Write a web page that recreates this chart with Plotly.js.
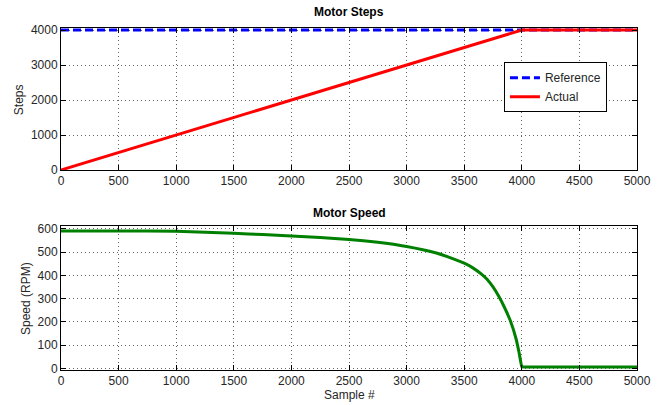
<!DOCTYPE html>
<html>
<head>
<meta charset="utf-8">
<script src="https://cdn.plot.ly/plotly-3.0.1.min.js"></script>
<style>html,body{margin:0;padding:0;background:#fff;}#chart{width:665px;height:405px;}</style>
</head>
<body>
<div id="chart"></div>
<script>
// Top subplot: Motor Steps
const refX = [0, 5000];
const refY = [4000, 4000];
const actX = [0, 4000, 5000];
const actY = [0, 4000, 4000];

// Bottom subplot: Motor Speed (RPM)
const speedX = [0, 500, 1000, 1250, 1500, 1750, 2000, 2250, 2500, 2750, 3000, 3250, 3400, 3500, 3575, 3650, 3700, 3750, 3800, 3850, 3900, 3950, 3975, 4000, 4010, 5000];
const speedY = [590, 590, 589, 585, 580, 575, 569, 562.5, 554, 542, 524, 497, 472, 452, 432, 405, 382, 350, 310, 262, 206, 128, 72, 8, 7, 7];

const xTicks = [0, 500, 1000, 1500, 2000, 2500, 3000, 3500, 4000, 4500, 5000];

const font = {family: 'Liberation Sans, Arial, sans-serif', size: 12, color: '#262626'};

const axisCommon = {
  showline: true, linecolor: '#000', linewidth: 1, mirror: 'ticks',
  ticks: 'inside', ticklen: 5, tickcolor: '#000',
  showgrid: true, gridcolor: '#666', griddash: '1px,3px', gridwidth: 1,
  zeroline: false, tickfont: font
};

const traces = [
  {x: refX, y: refY, type: 'scatter', mode: 'lines', name: 'Reference',
   line: {color: '#0000ff', width: 3, dash: '8px,4px'}, xaxis: 'x', yaxis: 'y'},
  {x: actX, y: actY, type: 'scatter', mode: 'lines', name: 'Actual',
   line: {color: '#ff0000', width: 3}, xaxis: 'x', yaxis: 'y'},
  {x: speedX, y: speedY, type: 'scatter', mode: 'lines', name: 'Speed',
   line: {color: '#008000', width: 3, shape: 'spline', smoothing: 0.3}, xaxis: 'x2', yaxis: 'y2', showlegend: false}
];

const layout = {
  width: 665, height: 405,
  margin: {l: 61, r: 28, t: 28, b: 35},
  paper_bgcolor: '#fff', plot_bgcolor: '#fff',
  font: font,
  showlegend: true,
  legend: {x: 0.769, y: 0.9, xanchor: 'left', yanchor: 'top',
           bgcolor: '#fff', bordercolor: '#000', borderwidth: 1,
           font: font, tracegroupgap: 0},
  xaxis: Object.assign({}, axisCommon, {domain: [0, 1], range: [0, 5000], tickvals: xTicks, anchor: 'y'}),
  yaxis: Object.assign({}, axisCommon, {domain: [0.5848, 1], range: [0, 4057], tickvals: [0, 1000, 2000, 3000, 4000], anchor: 'x'}),
  xaxis2: Object.assign({}, axisCommon, {domain: [0, 1], range: [0, 5000], tickvals: xTicks, anchor: 'y2'}),
  yaxis2: Object.assign({}, axisCommon, {domain: [0, 0.4211], range: [-6, 611.6], tickvals: [0, 100, 200, 300, 400, 500, 600], anchor: 'x2'}),
  annotations: [
    {text: '<b>Motor Steps</b>', xref: 'paper', yref: 'paper', x: 0.5, y: 1.0468, showarrow: false,
     xanchor: 'center', yanchor: 'middle', font: {family: font.family, size: 12, color: '#000'}},
    {text: '<b>Motor Speed</b>', xref: 'paper', yref: 'paper', x: 0.5, y: 0.459, showarrow: false,
     xanchor: 'center', yanchor: 'middle', font: {family: font.family, size: 12, color: '#000'}},
    {text: 'Sample #', xref: 'paper', yref: 'paper', x: 0.5, y: -0.074, showarrow: false,
     xanchor: 'center', yanchor: 'middle', font: font},
    {text: 'Steps', xref: 'paper', yref: 'paper', x: -0.0729, y: 0.789, showarrow: false, textangle: -90,
     xanchor: 'center', yanchor: 'middle', font: font},
    {text: 'Speed (RPM)', xref: 'paper', yref: 'paper', x: -0.0608, y: 0.2105, showarrow: false, textangle: -90,
     xanchor: 'center', yanchor: 'middle', font: font}
  ]
};

Plotly.newPlot('chart', traces, layout, {displayModeBar: false, staticPlot: true});
</script>
</body>
</html>
